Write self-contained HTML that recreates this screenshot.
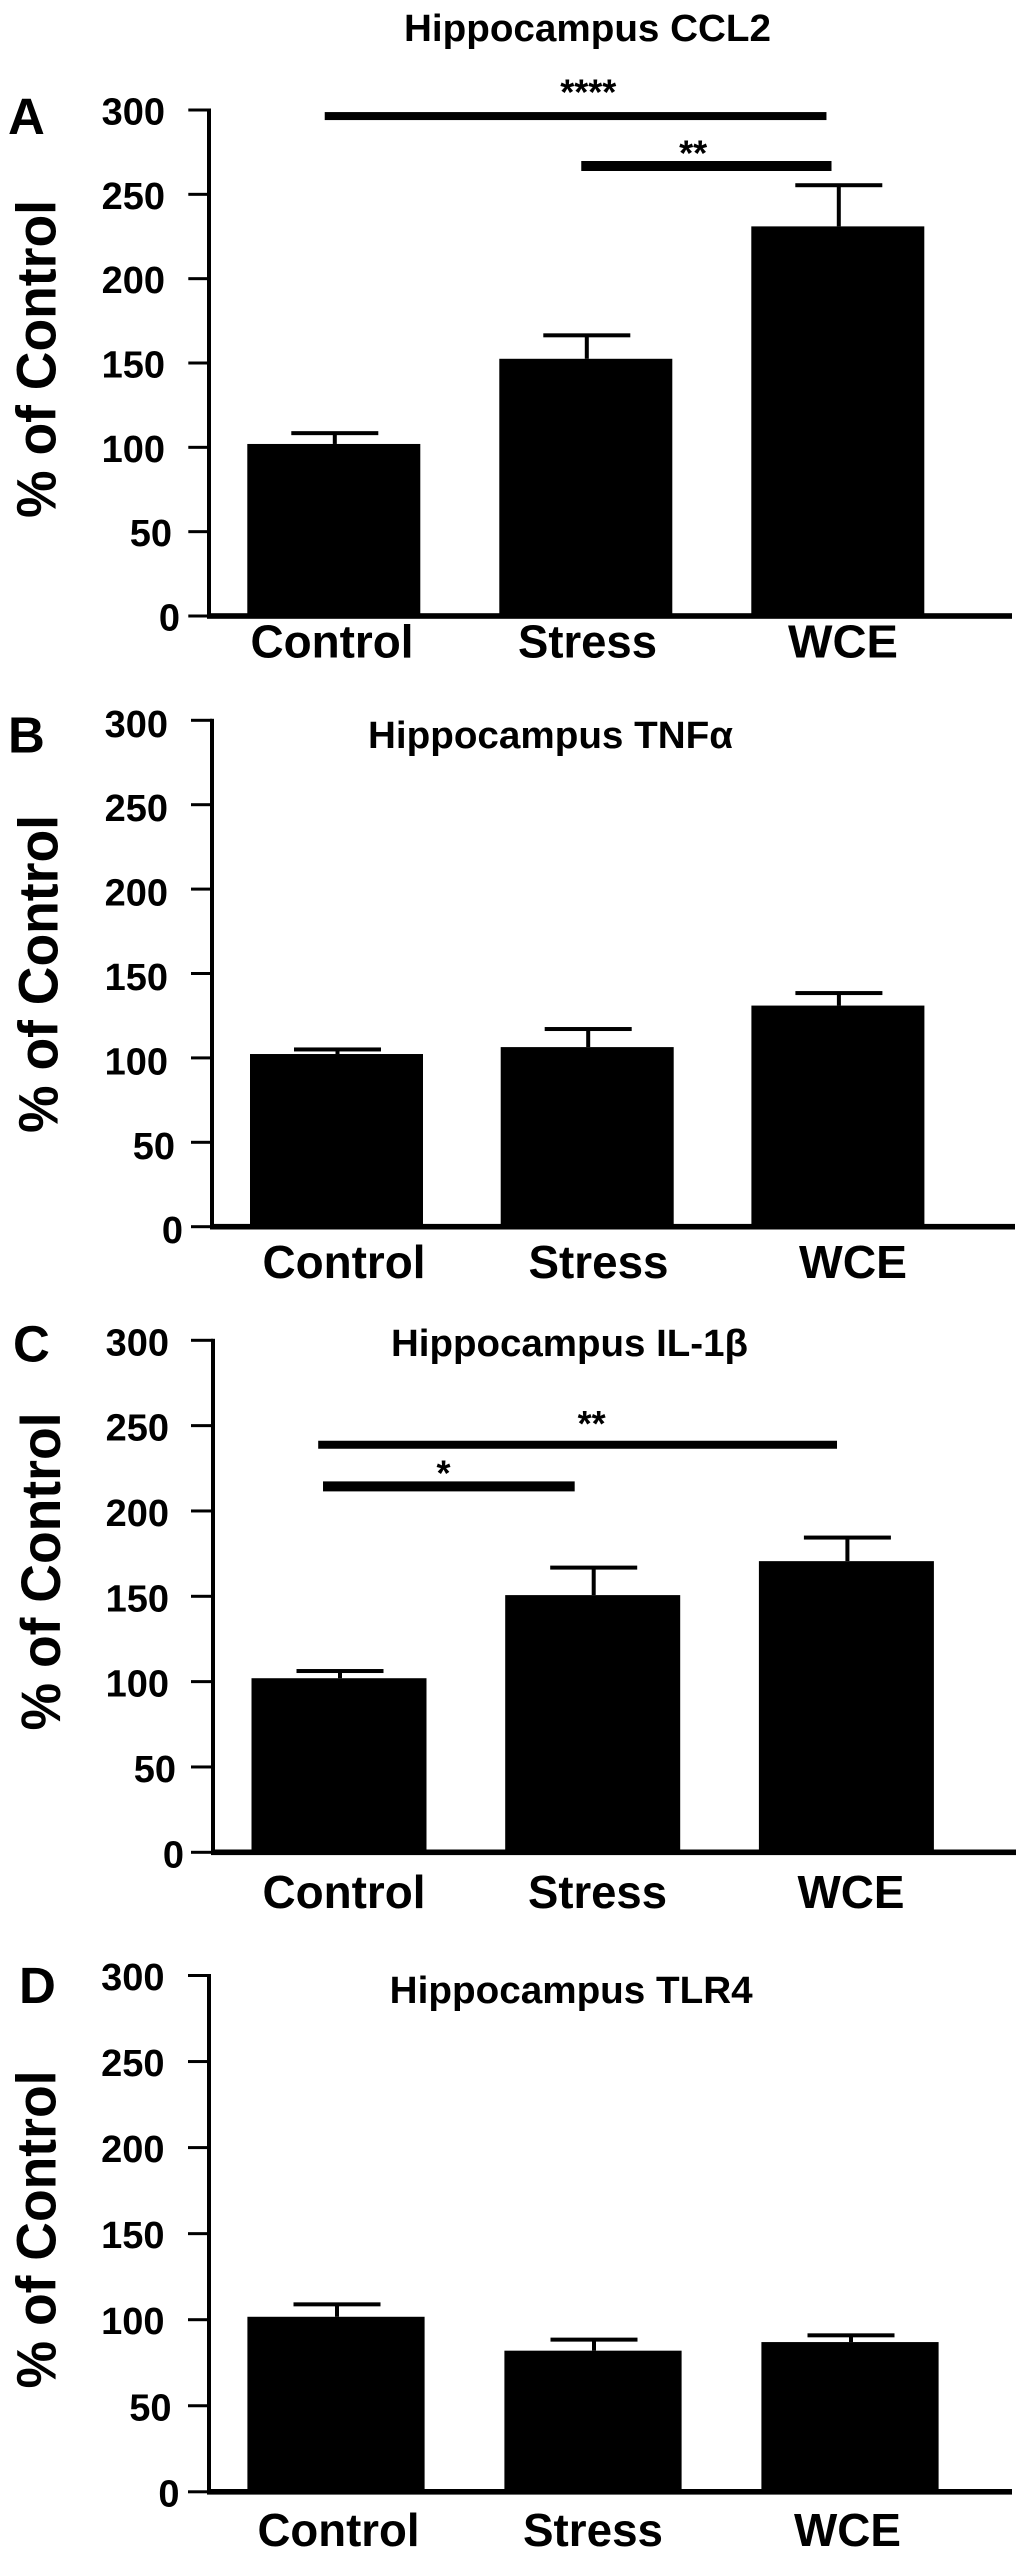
<!DOCTYPE html>
<html lang="en">
<head>
<meta charset="utf-8">
<title>Hippocampus cytokines, % of control</title>
<style>
html,body{margin:0;padding:0;background:#fff;}
svg{display:block;}
text{font-family:"Liberation Sans",Arial,sans-serif;font-weight:bold;fill:#000;}
</style>
</head>
<body>
<svg id="figure" xmlns="http://www.w3.org/2000/svg" width="1024" height="2557" viewBox="0 0 1024 2557"></svg>
<script>
const categories = ['Control', 'Stress', 'WCE'];
const tickValues = [0, 50, 100, 150, 200, 250, 300];

const ccl2Means = [102, 152.5, 231];
const ccl2Errors = [7, 14.5, 25];
const tnfMeans = [102.3, 106.4, 131];
const tnfErrors = [3.3, 11.3, 8];
const il1Means = [102, 150.7, 170.6];
const il1Errors = [4.8, 16.7, 14.4];
const tlr4Means = [101.7, 82, 87];
const tlr4Errors = [7.8, 7, 4.5];

const ccl2SigFrom = [-0.036, 0.982];
const ccl2SigTo = [1.955, 1.975];
const ccl2SigLevel = [296.4, 266.8];
const ccl2SigLabels = ['****', '**'];
const ccl2StarAt = [1.01, 1.426];
const ccl2StarLevel = [315, 279];

const il1SigFrom = [-0.082, -0.063];
const il1SigTo = [1.963, 0.929];
const il1SigLevel = [238.8, 214.4];
const il1SigLabels = ['**', '*'];
const il1StarAt = [0.996, 0.412];
const il1StarLevel = [255.7, 226.6];

const svg = document.getElementById('figure');
const NS = 'http://www.w3.org/2000/svg';

function shape(tag, props, text) {
  const el = document.createElementNS(NS, tag);
  for (const k in props) el.setAttribute(k, props[k]);
  if (text !== undefined) el.textContent = text;
  return el;
}

function drawPanel(p) {
  const g = shape('g', {});
  
  
  svg.appendChild(g);

  const yScale = v => p.y0 - v * (p.y0 - p.y300) / 300;
  const xScale = i => p.barCenter0 + i * p.barStep;

  const letter = shape('text', {x: p.letterX, y: p.letterY, 'font-size': 51}, p.letter);
  
  
  g.appendChild(letter);

  const title = shape('text', {x: p.titleX, y: p.titleY, 'font-size': 38, textLength: p.titleW, lengthAdjust: 'spacingAndGlyphs'}, p.title);
  
  
  g.appendChild(title);

  const yTitle = shape('text', {
    x: 0, y: 0, 'font-size': 56, 'text-anchor': 'middle', textLength: 318, lengthAdjust: 'spacingAndGlyphs',
    transform: 'translate(' + p.yTitleX + ' ' + p.yTitleY + ') rotate(-90)'
  }, '% of Control');
  
  
  g.appendChild(yTitle);

  tickValues.forEach(v => {
    const y = yScale(v);
    const tick = shape('rect', {x: p.tickLeft, y: y - 1.5, width: p.axisX - p.tickLeft, height: 3, fill: '#000'});
    
    
    g.appendChild(tick);

    const s = String(v);
    const right = p.labelRight + (s.length === 3 ? 0 : s.length === 2 ? 7 : 15);
    const label = shape('text', {x: right, y: y + p.labelDy, 'font-size': 38, 'text-anchor': 'end'}, s);
    
    
    g.appendChild(label);
  });

  const yAxis = shape('rect', {x: p.axisX - 2, y: yScale(300) - 1.5, width: 4, height: p.y0 - yScale(300) + 1.5, fill: '#000'});
  
  
  g.appendChild(yAxis);

  const xAxis = shape('rect', {x: p.axisX - 2, y: p.y0 - 2.8, width: p.axisEnd - p.axisX + 2, height: 5.6, fill: '#000'});
  
  
  g.appendChild(xAxis);

  categories.forEach((c, i) => {
    const cx = xScale(i);
    const top = yScale(p.means[i]);
    const errTop = yScale(p.means[i] + p.errors[i]);

    const bar = shape('rect', {x: cx - p.barWidth / 2, y: top, width: p.barWidth, height: p.y0 - top, fill: '#000'});
    
    
    g.appendChild(bar);

    const stem = shape('rect', {x: cx - 1, y: errTop, width: 4, height: top - errTop, fill: '#000'});
    
    
    g.appendChild(stem);

    const cap = shape('rect', {x: cx + 1 - 43.5, y: errTop - 1, width: 87, height: 4, fill: '#000'});
    
    
    g.appendChild(cap);

    const label = shape('text', {x: p.labelX0 + i * p.labelStep, y: p.catY, 'font-size': 46, 'text-anchor': 'middle', textLength: p.catWidths[i], lengthAdjust: 'spacingAndGlyphs'}, c);
    
    
    g.appendChild(label);
  });

  if (p.sigFrom) {
    p.sigFrom.forEach((from, i) => {
      const x1 = xScale(from);
      const x2 = xScale(p.sigTo[i]);
      const h = i === 0 ? 8 : 10;
      const sig = shape('rect', {x: x1, y: yScale(p.sigLevel[i]) - h / 2, width: x2 - x1, height: h, fill: '#000'});
      
      
      g.appendChild(sig);

      const star = shape('text', {x: xScale(p.starAt[i]), y: yScale(p.starLevel[i]) + 20, 'font-size': 36, 'text-anchor': 'middle'}, p.sigLabels[i]);
      
      
      g.appendChild(star);
    });
  }
}

drawPanel({
  letter: 'A', letterX: 8, letterY: 134,
  title: 'Hippocampus CCL2', titleX: 404, titleY: 41, titleW: 367,
  yTitleX: 55.4, yTitleY: 359,
  axisX: 209, axisEnd: 1012, tickLeft: 188.3, labelRight: 165, labelDy: 14.5,
  y0: 616, y300: 110,
  barCenter0: 333.8, barStep: 252, barWidth: 173,
  labelX0: 332, labelStep: 255.5, catY: 657.5, catWidths: [163, 139, 110],
  means: ccl2Means, errors: ccl2Errors,
  sigFrom: ccl2SigFrom, sigTo: ccl2SigTo, sigLevel: ccl2SigLevel, sigLabels: ccl2SigLabels,
  starAt: ccl2StarAt, starLevel: ccl2StarLevel
});

drawPanel({
  letter: 'B', letterX: 8, letterY: 752.6,
  title: 'Hippocampus TNFα', titleX: 368, titleY: 748, titleW: 365,
  yTitleX: 57.4, yTitleY: 974,
  axisX: 212, axisEnd: 1015, tickLeft: 191, labelRight: 168, labelDy: 16.5,
  y0: 1226.7, y300: 720.3,
  barCenter0: 336.5, barStep: 250.7, barWidth: 173,
  labelX0: 344, labelStep: 254.5, catY: 1278, catWidths: [163, 140, 108],
  means: tnfMeans, errors: tnfErrors
});

drawPanel({
  letter: 'C', letterX: 13, letterY: 1361.5,
  title: 'Hippocampus IL-1β', titleX: 391, titleY: 1356, titleW: 357,
  yTitleX: 60, yTitleY: 1571.5,
  axisX: 213, axisEnd: 1016, tickLeft: 191, labelRight: 169, labelDy: 15,
  y0: 1852.3, y300: 1340.3,
  barCenter0: 339, barStep: 253.7, barWidth: 175,
  labelX0: 344, labelStep: 253.5, catY: 1908, catWidths: [163, 139, 107],
  means: il1Means, errors: il1Errors,
  sigFrom: il1SigFrom, sigTo: il1SigTo, sigLevel: il1SigLevel, sigLabels: il1SigLabels,
  starAt: il1StarAt, starLevel: il1StarLevel
});

drawPanel({
  letter: 'D', letterX: 19, letterY: 2003,
  title: 'Hippocampus TLR4', titleX: 389.7, titleY: 2003, titleW: 363,
  yTitleX: 55.4, yTitleY: 2229.5,
  axisX: 209, axisEnd: 1012, tickLeft: 188, labelRight: 164.5, labelDy: 14.5,
  y0: 2491.8, y300: 1975.5,
  barCenter0: 336, barStep: 257, barWidth: 177.2,
  labelX0: 338.5, labelStep: 254.5, catY: 2546, catWidths: [162, 140, 107],
  means: tlr4Means, errors: tlr4Errors
});
</script>
</body>
</html>
